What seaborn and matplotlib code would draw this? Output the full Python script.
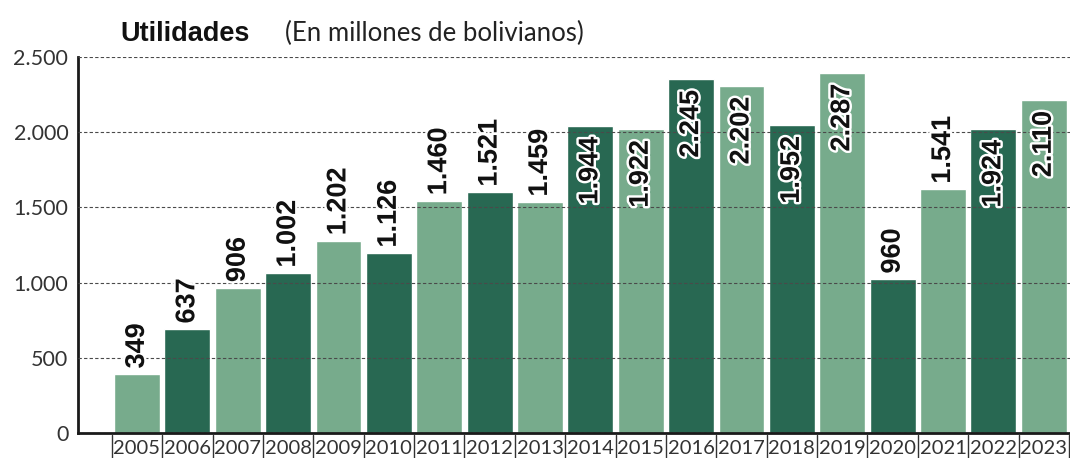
import matplotlib
matplotlib.use("Agg")
import matplotlib.pyplot as plt
import matplotlib.patheffects as pe
import seaborn as sns
import pandas as pd

# ---- data ----
years = ["2005", "2006", "2007", "2008", "2009", "2010", "2011", "2012", "2013", "2014",
         "2015", "2016", "2017", "2018", "2019", "2020", "2021", "2022", "2023"]
profits = [349, 637, 906, 1002, 1202, 1126, 1460, 1521, 1459, 1944,
           1922, 2245, 2202, 1952, 2287, 960, 1541, 1924, 2110]
# bar heights as drawn in the reference (measured against the y axis)
bar_heights = [392, 691, 966, 1063, 1278, 1196, 1544, 1601, 1535, 2040,
               2020, 2352, 2308, 2047, 2394, 1023, 1621, 2020, 2213]
shades = ["claro", "oscuro"] * 9 + ["claro"]
y_ticks = [0, 500, 1000, 1500, 2000, 2500]
y_tick_labels = ["0", "500", "1.000", "1.500", "2.000", "2.500"]
title = "Utilidades"
subtitle = "(En millones de bolivianos)"

palette = {"claro": "#77ab8c", "oscuro": "#286852"}

df = pd.DataFrame({"year": years, "height": bar_heights, "shade": shades, "profit": profits})

sns.set_theme(style="white")
plt.rcParams["font.family"] = ["Liberation Sans", "DejaVu Sans"]

fig = plt.figure(figsize=(10.7, 4.58), dpi=100)
ax = fig.add_axes([78 / 1070, 1 - 433 / 458, (1070 - 78) / 1070, 376 / 458])

sns.barplot(data=df, x="year", y="height", hue="shade", palette=palette, order=years,
            dodge=False, width=0.91, saturation=1, legend=False, ax=ax)

ax.set_xlim(-1.17, 18.52)
ax.set_ylim(0, 2500)
ax.set_yticks(y_ticks)
ax.set_yticklabels(y_tick_labels)
ax.set_xlabel("")
ax.set_ylabel("")

thin_family = ["Lato", "DejaVu Sans"]
for lab in ax.get_yticklabels():
    lab.set_fontfamily(thin_family)
    lab.set_fontweight("normal")
    lab.set_fontsize(15.5)
    lab.set_color("#333333")
for lab in ax.get_xticklabels():
    lab.set_fontfamily(thin_family)
    lab.set_fontweight("normal")
    lab.set_fontsize(14.5)
    lab.set_color("#333333")
ax.tick_params(axis="both", length=0)
ax.tick_params(axis="y", pad=7)
ax.tick_params(axis="x", pad=5)

for s in ["top", "right"]:
    ax.spines[s].set_visible(False)
for s in ["left", "bottom"]:
    ax.spines[s].set_color("#1a1a1a")
    ax.spines[s].set_linewidth(2)

ax.yaxis.grid(True, linestyle=(0, (3, 2)), color="#4a4a4a", linewidth=0.8)
ax.xaxis.grid(False)
ax.set_axisbelow(False)

# separators between year labels
xt = ax.get_xaxis_transform()
for i in range(len(years) + 1):
    ax.plot([i - 0.5, i - 0.5], [-2 / 376, -25 / 376], transform=xt, clip_on=False,
            color="#333333", lw=1)

# value labels
stroke = [pe.withStroke(linewidth=3.5, foreground="white")]
for i, (v, h) in enumerate(zip(profits, bar_heights)):
    txt = f"{v:,}".replace(",", ".")
    if v > 1900:
        ax.annotate(txt, xy=(i, h), xytext=(0, -7.5), textcoords="offset points",
                    rotation=90, ha="center", va="top", fontsize=19.5, fontweight="bold",
                    color="#111111", path_effects=stroke, zorder=5)
    else:
        ax.annotate(txt, xy=(i, h), xytext=(0, 4), textcoords="offset points",
                    rotation=90, ha="center", va="bottom", fontsize=19.5, fontweight="bold",
                    color="#111111", path_effects=stroke, zorder=5)

fig.text(120 / 1070, 1 - 41 / 458, title, fontsize=19.5, fontweight="bold",
         color="#111111", va="baseline", ha="left")
fig.text(285 / 1070, 1 - 41 / 458, subtitle, fontsize=18.5, color="#222222",
         va="baseline", ha="left", family=thin_family, fontweight="normal")

fig.savefig("out.png", dpi=100)
